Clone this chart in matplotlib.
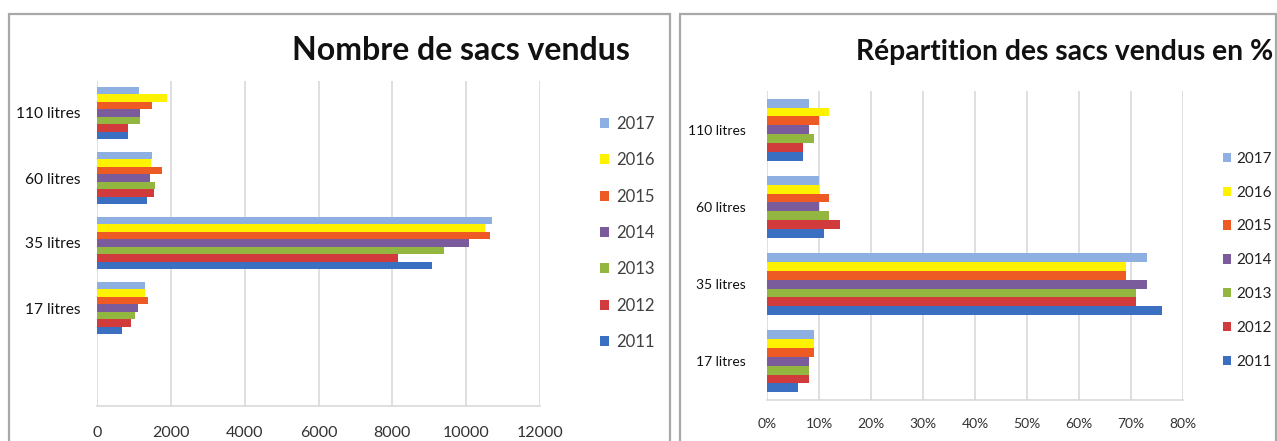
import matplotlib
matplotlib.use("Agg")
import matplotlib.pyplot as plt
from matplotlib.patches import Rectangle
import numpy as np

plt.rcParams['font.family'] = ['Lato', 'DejaVu Sans']

categories = ["17 litres", "35 litres", "60 litres", "110 litres"]
years = ["2011", "2012", "2013", "2014", "2015", "2016", "2017"]
colors = ["#3B6FC2", "#D23B3B", "#93B640", "#7A5C9D", "#EE5A24", "#FFF200", "#8DAFE2"]

# Nombre de sacs vendus (per category: 17, 35, 60, 110 litres)
counts = {
    "2011": [690, 9070, 1360, 830],
    "2012": [910, 8160, 1540, 830],
    "2013": [1030, 9390, 1560, 1160],
    "2014": [1120, 10080, 1430, 1160],
    "2015": [1380, 10640, 1770, 1500],
    "2016": [1310, 10520, 1450, 1900],
    "2017": [1310, 10700, 1500, 1150],
}
# Répartition en % (per category: 17, 35, 60, 110 litres)
shares = {
    "2011": [6, 76, 11, 7],
    "2012": [8, 71, 14, 7],
    "2013": [8, 71, 12, 9],
    "2014": [8, 73, 10, 8],
    "2015": [9, 69, 12, 10],
    "2016": [9, 69, 10, 12],
    "2017": [9, 73, 10, 8],
}
left_ticks = [0, 2000, 4000, 6000, 8000, 10000, 12000]
right_ticks = [0, 10, 20, 30, 40, 50, 60, 70, 80]

W, H = 1277, 441
fig = plt.figure(figsize=(W / 100, H / 100), dpi=100)
fig.patch.set_facecolor("white")

# panel frames
fig.patches.append(Rectangle((9 / W, -0.05), (670 - 9) / W, 1.05 - 14 / H, transform=fig.transFigure,
                             fill=False, edgecolor="#A8A8A8", linewidth=1.6))
fig.patches.append(Rectangle((680 / W, -0.05), (1276 - 680) / W, 1.05 - 14 / H, transform=fig.transFigure,
                             fill=False, edgecolor="#A8A8A8", linewidth=1.6))

grid_c = "#D9D9D9"
txt_c = "#333333"


def draw(ax, data, ncat_extra, xmax, ticks, ticklabels, fs_tick, fs_cat, pad, ypad):
    n = len(years)
    group = 0.8
    bh = group / n
    pos = np.arange(len(categories)) + ncat_extra
    for i, y in enumerate(years):
        off = -group / 2 + bh * (i + 0.5)
        ax.barh(pos + off, data[y], height=bh, color=colors[i], label=y, zorder=3)
    ax.set_ylim(-0.5, len(categories) - 0.5 + ncat_extra)
    ax.set_xlim(0, xmax)
    ax.set_xticks(ticks)
    ax.set_xticklabels(ticklabels, fontsize=fs_tick, color=txt_c)
    ax.set_yticks(pos)
    ax.set_yticklabels(categories, fontsize=fs_cat, color="#111111")
    ax.tick_params(axis="both", length=0)
    ax.tick_params(axis="x", pad=pad)
    ax.tick_params(axis="y", pad=ypad)
    ax.grid(axis="x", color=grid_c, linewidth=1.2, zorder=0)
    for s in ["top", "right", "left"]:
        ax.spines[s].set_visible(False)
    ax.spines["bottom"].set_color(grid_c)
    ax.spines["bottom"].set_linewidth(1.2)
    h, l = ax.get_legend_handles_labels()
    return h[::-1], l[::-1]


ax1 = fig.add_axes([97 / W, 1 - 405.5 / H, (540 - 97) / W, (405.5 - 80.5) / H])
h1, l1 = draw(ax1, counts, 1, 12000, left_ticks, [str(t) for t in left_ticks], 11.5, 11.2, 15, 12)
leg1 = fig.legend(h1, l1, loc="upper left", bbox_to_anchor=(585 / W, 1 - 101 / H), frameon=False,
                  fontsize=12, labelspacing=1.22, handlelength=0.55, handleheight=0.55,
                  handletextpad=0.45, labelcolor="#404040")
fig.text(461 / W, 1 - 50 / H, "Nombre de sacs vendus", ha="center", va="center",
         fontsize=23, fontweight="bold", color="#111111")

ax2 = fig.add_axes([767 / W, 1 - 400 / H, (1183 - 767) / W, (400 - 91) / H])
h2, l2 = draw(ax2, shares, 0, 80, right_ticks, [f"{t}%" for t in right_ticks], 10, 10, 13, 15)
leg2 = fig.legend(h2, l2, loc="upper left", bbox_to_anchor=(1209 / W, 1 - 138 / H), frameon=False,
                  fontsize=11, labelspacing=1.3, handlelength=0.55, handleheight=0.55,
                  handletextpad=0.35, labelcolor="#222222")
fig.text(1065 / W, 1 - 52 / H, "Répartition des sacs vendus en %", ha="center", va="center",
         fontsize=20.3, fontweight="bold", color="#111111")

fig.savefig("out.png", dpi=100)
